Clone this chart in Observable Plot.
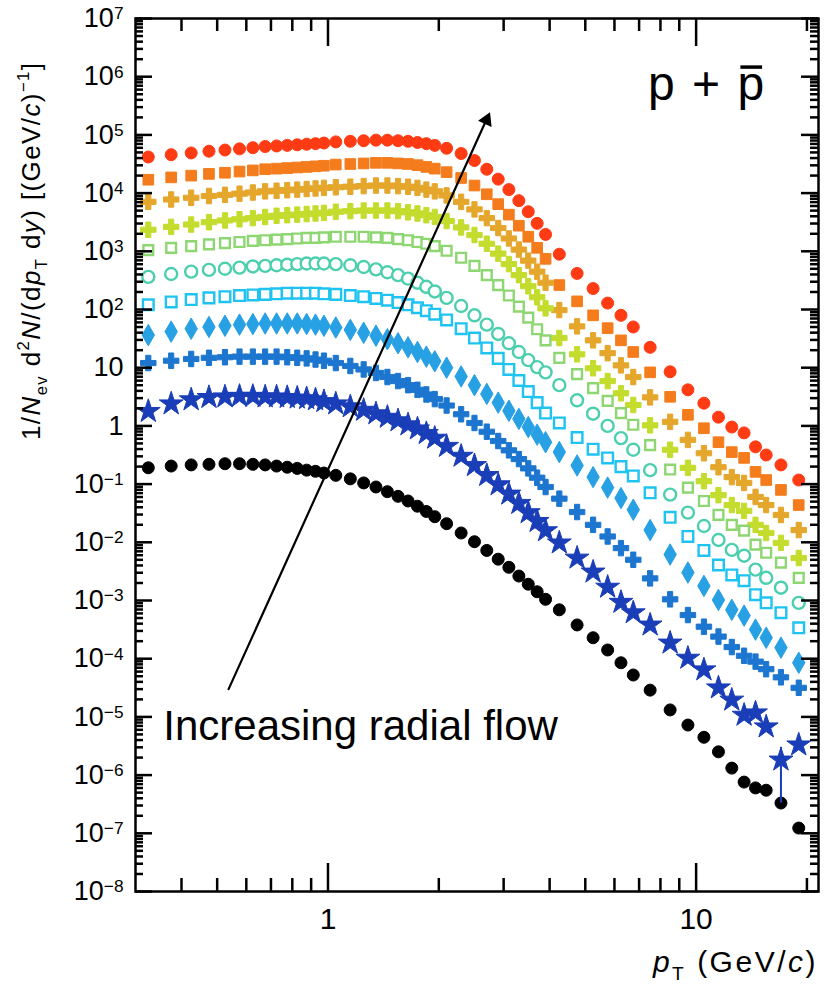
<!DOCTYPE html>
<html><head><meta charset="utf-8">
<script src="https://cdn.jsdelivr.net/npm/d3@7"></script>
<script src="https://cdn.jsdelivr.net/npm/@observablehq/plot@0.6"></script>
<style>body{margin:0;background:#fff;} #chart{width:825px;height:988px;}</style>
</head><body><div id="chart"></div>
<script>
// pT bin centres (GeV/c)
const pT = [0.325,0.375,0.425,0.475,0.525,0.575,0.625,0.675,0.725,0.775,0.825,0.875,0.925,0.975,1.05,1.15,1.25,1.35,1.45,1.55,1.65,1.75,1.85,1.95,2.1,2.3,2.5,2.7,2.9,3.1,3.3,3.5,3.7,3.9,
  4.25,4.75,5.25,5.75,6.25,6.75,7.5,8.5,9.5,10.5,11.5,12.5,13.5,14.5,15.5,17,19];

// log10 of 1/Nev d2N/(dpT dy), one array per class (top to bottom)
const log10Red = [4.62,4.66,4.69,4.72,4.74,4.76,4.78,4.80,4.81,4.82,4.83,4.84,4.85,4.86,4.88,4.89,4.90,4.91,4.91,4.90,4.89,4.87,4.85,4.82,4.77,4.68,4.56,4.41,4.24,4.06,3.87,3.68,3.48,3.29,
  2.95,2.62,2.36,2.11,1.90,1.70,1.35,0.93,0.62,0.39,0.15,-0.02,-0.12,-0.36,-0.50,-0.67,-0.93];
const log10Orange = [4.23,4.27,4.30,4.33,4.35,4.37,4.39,4.41,4.42,4.43,4.44,4.45,4.46,4.47,4.49,4.50,4.51,4.52,4.52,4.51,4.50,4.48,4.45,4.42,4.36,4.26,4.13,3.98,3.81,3.63,3.44,3.25,3.06,2.87,
  2.42,2.14,1.90,1.68,1.47,1.27,0.92,0.50,0.19,-0.04,-0.28,-0.45,-0.55,-0.79,-0.93,-1.10,-1.36];
const log10Amber = [3.85,3.89,3.92,3.95,3.97,3.99,4.01,4.03,4.04,4.05,4.06,4.07,4.08,4.09,4.10,4.11,4.12,4.13,4.13,4.12,4.11,4.09,4.06,4.03,3.96,3.85,3.72,3.57,3.40,3.22,3.03,2.84,2.65,2.46,
  1.99,1.71,1.47,1.25,1.04,0.84,0.49,0.07,-0.24,-0.47,-0.71,-0.88,-0.98,-1.22,-1.36,-1.53,-1.79];
const log10YellowGreen = [3.37,3.42,3.46,3.50,3.53,3.55,3.57,3.59,3.61,3.62,3.63,3.64,3.65,3.66,3.68,3.69,3.70,3.70,3.70,3.69,3.67,3.65,3.62,3.59,3.52,3.41,3.28,3.13,2.96,2.78,2.59,2.40,2.21,2.02,
  1.51,1.23,0.99,0.77,0.56,0.36,0.01,-0.41,-0.72,-0.95,-1.19,-1.36,-1.46,-1.70,-1.84,-2.01,-2.27];
const log10LightGreen = [3.02,3.06,3.09,3.12,3.14,3.16,3.18,3.19,3.20,3.21,3.22,3.23,3.23,3.24,3.25,3.25,3.25,3.24,3.23,3.21,3.19,3.16,3.13,3.09,3.01,2.89,2.75,2.59,2.42,2.24,2.05,1.86,1.66,1.47,
  1.17,0.89,0.65,0.43,0.22,0.02,-0.33,-0.75,-1.06,-1.29,-1.53,-1.70,-1.80,-2.04,-2.18,-2.35,-2.61];
const log10Teal = [2.56,2.61,2.65,2.68,2.70,2.72,2.74,2.75,2.76,2.77,2.78,2.79,2.79,2.79,2.78,2.76,2.73,2.69,2.64,2.59,2.53,2.46,2.39,2.31,2.20,2.06,1.90,1.74,1.58,1.42,1.27,1.13,1.01,0.92,
  0.70,0.44,0.21,0.00,-0.21,-0.41,-0.76,-1.18,-1.49,-1.72,-1.96,-2.13,-2.23,-2.47,-2.61,-2.78,-3.04];
const log10Cyan = [2.08,2.13,2.17,2.20,2.22,2.24,2.25,2.26,2.27,2.28,2.28,2.28,2.28,2.27,2.26,2.24,2.22,2.19,2.16,2.12,2.08,2.03,1.98,1.92,1.82,1.67,1.51,1.34,1.16,0.97,0.78,0.59,0.40,0.22,
  0.05,-0.20,-0.40,-0.55,-0.70,-0.86,-1.15,-1.57,-1.90,-2.14,-2.39,-2.56,-2.66,-2.90,-3.04,-3.21,-3.47];
const log10LightBlue = [1.56,1.62,1.67,1.70,1.72,1.74,1.75,1.76,1.76,1.76,1.76,1.75,1.74,1.72,1.69,1.65,1.60,1.55,1.49,1.42,1.35,1.27,1.19,1.11,1.00,0.85,0.70,0.55,0.40,0.26,0.12,-0.02,-0.15,-0.28,
  -0.45,-0.68,-0.88,-1.06,-1.24,-1.44,-1.79,-2.21,-2.52,-2.75,-2.99,-3.16,-3.26,-3.50,-3.64,-3.81,-4.07];
const log10MidBlue = [1.08,1.12,1.15,1.17,1.18,1.19,1.19,1.19,1.19,1.18,1.17,1.16,1.14,1.12,1.08,1.03,0.97,0.91,0.84,0.77,0.70,0.62,0.54,0.46,0.35,0.20,0.05,-0.10,-0.26,-0.42,-0.57,-0.73,-0.89,-1.05,
  -1.25,-1.48,-1.70,-1.90,-2.10,-2.30,-2.62,-2.98,-3.25,-3.45,-3.62,-3.80,-3.95,-4.05,-4.18,-4.32,-4.50];
const log10DarkBlue = [0.25,0.38,0.45,0.49,0.50,0.51,0.51,0.50,0.50,0.49,0.48,0.47,0.45,0.42,0.38,0.33,0.27,0.21,0.15,0.09,0.02,-0.05,-0.13,-0.21,-0.35,-0.52,-0.68,-0.85,-1.01,-1.17,-1.33,-1.49,-1.64,-1.80,
  -2.01,-2.27,-2.51,-2.77,-3.03,-3.21,-3.42,-3.73,-3.99,-4.19,-4.50,-4.71,-4.97,-4.93,-5.17,-5.74,-5.48];
const log10Black = [-0.72,-0.69,-0.67,-0.66,-0.65,-0.65,-0.66,-0.67,-0.69,-0.71,-0.73,-0.76,-0.78,-0.81,-0.85,-0.91,-0.98,-1.05,-1.13,-1.21,-1.29,-1.38,-1.47,-1.56,-1.68,-1.84,-1.99,-2.14,-2.29,-2.43,-2.58,-2.72,-2.85,-2.98,
  -3.16,-3.42,-3.64,-3.85,-4.07,-4.28,-4.54,-4.88,-5.14,-5.35,-5.60,-5.88,-6.12,-6.22,-6.26,-6.48,-6.91];

// one visible vertical error bar (dark blue class)
const errPt = [17];
const errLow = [3.3e-7];
const errHigh = [3.0e-6];

// ticks
const xMajor = [1, 10];
const xMinor = [0.4,0.5,0.6,0.7,0.8,0.9,2,3,4,5,6,7,8,9,20];
const yExp = d3.range(-8, 8);
const yMajor = yExp.map(e => Math.pow(10, e));
const yMinor = yExp.slice(0, -1).flatMap(e => [2,3,4,5,6,7,8,9].map(m => m * Math.pow(10, e)));

// annotations
const annotText = [{x: 0.357, y: 6.7e-6, text: "Increasing radial flow"}];
const arrowData = [{x1: 0.537, y1: 3.0e-5, x2: 2.73, y2: 2.2e5}];

const classes = [
  {values: log10Red, color: "#ff3b14", symbol: "circle", filled: true, r: 6},
  {values: log10Orange, color: "#f47c1c", symbol: "square", filled: true, r: 6},
  {values: log10Amber, color: "#e5a62c", symbol: "cross", filled: true, r: 6.5},
  {values: log10YellowGreen, color: "#c3dc2d", symbol: "cross", filled: true, r: 6.5},
  {values: log10LightGreen, color: "#8ed672", symbol: "square", filled: false, r: 5.5},
  {values: log10Teal, color: "#4ccfae", symbol: "circle", filled: false, r: 6},
  {values: log10Cyan, color: "#1ec3f2", symbol: "square", filled: false, r: 6},
  {values: log10LightBlue, color: "#27a0e4", symbol: "diamond", filled: true, r: 6.5},
  {values: log10MidBlue, color: "#1c76cf", symbol: "cross", filled: true, r: 6.5},
  {values: log10DarkBlue, color: "#1a3db8", symbol: "star", filled: true, r: 7.5},
  {values: log10Black, color: "#000000", symbol: "circle", filled: true, r: 6}
];

const dotMarks = classes.map(c => {
  const rows = pT.map((p, i) => ({pT: p, v: Math.pow(10, c.values[i])}));
  return Plot.dot(rows, {x: "pT", y: "v", symbol: c.symbol, r: c.r,
    fill: c.filled ? c.color : "white", stroke: c.color, strokeWidth: c.filled ? 1 : 2.4});
});
const errRows = errPt.map((p, i) => ({pT: p, lo: errLow[i], hi: errHigh[i]}));

const W = 825, H = 988, ML = 135, MR = 7, MT = 18, MB = 97;
const FW = W - ML - MR, FH = H - MT - MB;
const font = "'Liberation Sans', Arial, Helvetica, sans-serif";
const tk = {stroke: "black", strokeWidth: 2.5};

const plot = Plot.plot({
  width: W, height: H,
  marginLeft: ML, marginRight: MR, marginTop: MT, marginBottom: MB,
  style: {fontFamily: font, background: "white", color: "black"},
  x: {type: "log", domain: [0.3, 21.5]},
  y: {type: "log", domain: [1e-8, 1e7]},
  marks: [
    ...dotMarks,
    Plot.ruleX(errRows, {x: "pT", y1: "lo", y2: "hi", stroke: "#1a3db8", strokeWidth: 2}),
    Plot.arrow(arrowData, {x1: "x1", y1: "y1", x2: "x2", y2: "y2", stroke: "black", strokeWidth: 2.2, headLength: 0}),
    Plot.dot(arrowData, {x: "x2", y: "y2", symbol: "triangle", r: 5.5, fill: "black", rotate: 24, dx: -2, dy: 5}),
    Plot.text(annotText, {x: "x", y: "y", text: "text", fontSize: 42, textAnchor: "start", lineAnchor: "middle", fill: "black"}),
    // inward ticks on all four sides (rules shortened with insets)
    Plot.ruleX(xMajor, {...tk, insetTop: FH - 28}),
    Plot.ruleX(xMinor, {...tk, insetTop: FH - 13}),
    Plot.ruleX(xMajor, {...tk, insetBottom: FH - 28}),
    Plot.ruleX(xMinor, {...tk, insetBottom: FH - 13}),
    Plot.ruleY(yMajor, {...tk, insetRight: FW - 17}),
    Plot.ruleY(yMinor, {...tk, insetRight: FW - 8}),
    Plot.ruleY(yMajor, {...tk, insetLeft: FW - 17}),
    Plot.ruleY(yMinor, {...tk, insetLeft: FW - 8}),
    // tick labels
    Plot.axisX({anchor: "bottom", ticks: xMajor, tickSize: 0, tickPadding: 16, fontSize: 30, label: null, tickFormat: d => String(d)}),
    Plot.axisY({anchor: "left", ticks: yMajor, tickSize: 0, tickPadding: 12, fontSize: 27, label: null,
      tickFormat: d => String(Math.round(Math.log10(d)))}),
    Plot.frame({stroke: "black", strokeWidth: 2.5})
  ]
});
document.getElementById("chart").appendChild(plot);

const svg = d3.select(plot);
// y tick labels as powers of ten with superscripts
svg.selectAll('g[aria-label="y-axis tick label"] text').each(function() {
  const e = +this.textContent;
  const t = d3.select(this);
  t.text(null);
  if (e === 0) { t.text("1"); return; }
  if (e === 1) { t.text("10"); return; }
  t.append("tspan").text("10");
  t.append("tspan").attr("dy", "-0.45em").attr("font-size", "0.64em").text(String(e).replace("-", "\u2212"));
});

function rich(el, size, parts) {
  let shift = 0;
  parts.forEach(p => {
    const ts = el.append("tspan").text(p.t);
    const target = p.sub ? 0.27 * size : p.sup ? -0.42 * size : 0;
    if (target !== shift) { ts.attr("dy", target - shift); shift = target; }
    if (p.sub || p.sup) ts.attr("font-size", 0.64 * size);
    if (p.i) ts.attr("font-style", "italic");
  });
}
// y-axis title
const ytl = svg.append("text").attr("transform", "translate(40,440) rotate(-90)")
  .attr("font-size", 26).attr("font-family", font).attr("letter-spacing", 1.4)
  .attr("text-anchor", "start").attr("fill", "black");
rich(ytl, 26, [{t: "1/"}, {t: "N", i: 1}, {t: "ev", sub: 1}, {t: " d"}, {t: "2", sup: 1}, {t: "N", i: 1}, {t: "/(d"},
  {t: "p", i: 1}, {t: "T", sub: 1}, {t: " d"}, {t: "y", i: 1}, {t: ") [(GeV/"}, {t: "c", i: 1}, {t: ")"}, {t: "\u22121", sup: 1}, {t: "]"}]);
// x-axis title
const xtl = svg.append("text").attr("x", 818).attr("y", 972).attr("font-size", 30).attr("font-family", font)
  .attr("letter-spacing", 2.5).attr("text-anchor", "end").attr("fill", "black");
rich(xtl, 30, [{t: "p", i: 1}, {t: "T", sub: 1}, {t: " (GeV/"}, {t: "c", i: 1}, {t: ")"}]);
// particle label, with a bar over the antiproton
const pl = svg.append("text").attr("x", 648).attr("y", 100).attr("font-size", 48)
  .attr("font-family", font).attr("letter-spacing", 2).attr("text-anchor", "start").attr("fill", "black").text("p + p");
const ext = pl.node().getExtentOfChar(4);
svg.append("line").attr("x1", ext.x + 3).attr("x2", ext.x + ext.width - 4)
  .attr("y1", 100 - 0.519 * 48 - 8).attr("y2", 100 - 0.519 * 48 - 8)
  .attr("stroke", "black").attr("stroke-width", 3.5);
</script>
</body></html>
